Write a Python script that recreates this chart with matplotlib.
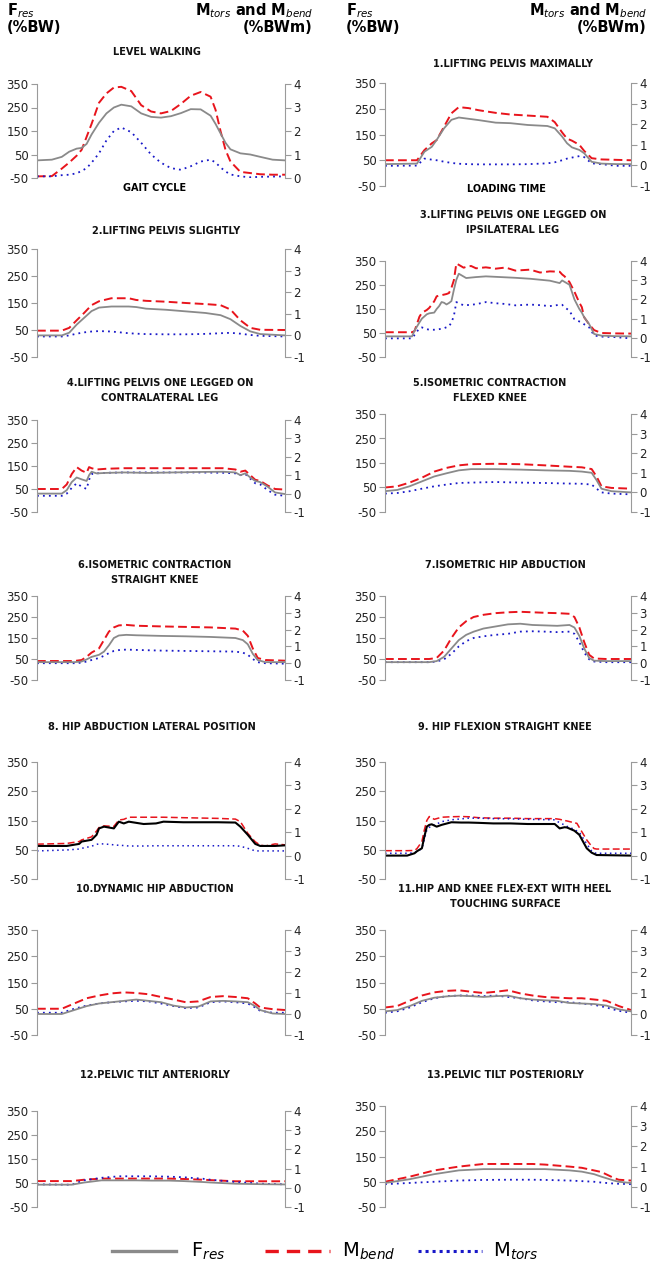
import numpy as np
import matplotlib
matplotlib.use('Agg')
import matplotlib.pyplot as plt
from matplotlib.lines import Line2D

plt.rcParams['axes.unicode_minus'] = False

W, H = 658, 1268

# ---- data (x = % of loading time, Fres in %BW, moments in %BWm) ----
p0_x = [0, 6, 10, 13, 16, 18, 20, 22, 25, 28, 31, 34, 38, 42, 46, 50, 54, 58, 62, 66, 70, 72, 74, 76, 78, 82, 86, 90, 95, 100]
p0_f = [25, 28, 40, 62, 75, 78, 95, 135, 185, 225, 250, 262, 255, 225, 210, 207, 213, 226, 243, 242, 215, 180, 140, 100, 72, 55, 50, 40, 28, 25]
p0_mb = [0.07, 0.08, 0.4, 0.66, 0.95, 1.2, 1.75, 2.3, 3.2, 3.6, 3.85, 3.88, 3.7, 3.1, 2.83, 2.75, 2.85, 3.15, 3.5, 3.66, 3.46, 2.9, 2.0, 1.2, 0.7, 0.26, 0.21, 0.16, 0.14, 0.14]
p0_mt = [0.07, 0.07, 0.12, 0.14, 0.2, 0.3, 0.42, 0.65, 1.05, 1.6, 2.0, 2.15, 1.95, 1.5, 1.0, 0.65, 0.42, 0.35, 0.5, 0.7, 0.78, 0.66, 0.45, 0.28, 0.15, 0.07, 0.03, 0.05, 0.06, 0.07]

p1_x = [0, 13, 16, 19, 21, 24, 27, 30, 34, 38, 45, 51, 58, 66, 69, 72, 74, 76, 79, 81, 84, 88, 94, 100]
p1_f = [35, 37, 83, 102, 129, 174, 207, 216, 211, 206, 196, 194, 187, 183, 174, 142, 116, 100, 90, 77, 44, 37, 35, 35]
p1_mb = [0.25, 0.25, 0.74, 1.07, 1.23, 1.88, 2.53, 2.83, 2.78, 2.68, 2.55, 2.47, 2.42, 2.36, 2.1, 1.6, 1.3, 1.2, 1.0, 0.7, 0.35, 0.29, 0.27, 0.25]
p1_mt = [-0.02, -0.01, 0.33, 0.28, 0.25, 0.18, 0.12, 0.08, 0.06, 0.05, 0.05, 0.05, 0.06, 0.1, 0.15, 0.25, 0.33, 0.38, 0.45, 0.4, 0.1, 0.06, -0.02, -0.02]

p2_x = [0, 10, 13, 16, 19, 22, 25, 30, 37, 40, 44, 52, 60, 68, 74, 78, 82, 86, 90, 100]
p2_f = [30, 30, 40, 70, 95, 120, 133, 137, 137, 135, 129, 125, 119, 113, 105, 90, 65, 45, 35, 30]
p2_mb = [0.22, 0.22, 0.35, 0.7, 1.04, 1.4, 1.58, 1.72, 1.72, 1.64, 1.6, 1.56, 1.5, 1.45, 1.4, 1.2, 0.7, 0.35, 0.26, 0.25]
p2_mt = [-0.05, -0.05, 0.0, 0.08, 0.14, 0.18, 0.2, 0.18, 0.1, 0.08, 0.06, 0.05, 0.05, 0.07, 0.1, 0.12, 0.08, 0.02, -0.02, -0.05]

p3_x = [0, 11, 12, 14, 15, 17, 18, 20, 21, 22, 23, 24, 25, 26, 27, 28, 29, 30, 32, 33, 35, 37, 41, 45, 49, 53, 59, 63, 67, 71, 72, 73, 75, 77, 79, 80, 81, 83, 85, 88, 93, 100]
p3_f = [36, 36, 60, 94, 110, 128, 132, 135, 150, 162, 179, 176, 169, 175, 183, 230, 272, 297, 285, 279, 281, 283, 286, 284, 282, 280, 276, 272, 268, 258, 269, 263, 251, 190, 150, 135, 115, 87, 46, 39, 37, 36]
p3_mb = [0.29, 0.29, 0.35, 1.1, 1.3, 1.45, 1.56, 1.9, 2.16, 2.2, 2.22, 2.25, 2.28, 2.33, 2.6, 3.0, 3.87, 3.8, 3.65, 3.7, 3.74, 3.62, 3.67, 3.6, 3.66, 3.5, 3.55, 3.4, 3.46, 3.44, 3.3, 3.2, 2.9, 2.4, 1.83, 1.6, 1.06, 0.7, 0.4, 0.25, 0.23, 0.22]
p3_mt = [-0.03, -0.03, 0.15, 0.5, 0.54, 0.45, 0.42, 0.42, 0.43, 0.45, 0.47, 0.5, 0.55, 0.59, 0.8, 1.14, 1.86, 1.8, 1.69, 1.7, 1.72, 1.75, 1.86, 1.8, 1.76, 1.69, 1.73, 1.7, 1.65, 1.72, 1.72, 1.6, 1.4, 0.97, 0.85, 0.8, 0.7, 0.54, 0.12, 0.06, 0.04, -0.03]

p4_x = [0, 10, 12, 14, 16, 18, 20, 21, 22, 24, 28, 35, 45, 55, 65, 75, 80, 82, 84, 86, 88, 90, 93, 96, 100]
p4_f = [30, 30, 45, 80, 100, 92, 85, 110, 125, 118, 120, 122, 120, 122, 124, 125, 122, 110, 118, 100, 85, 80, 60, 35, 28]
p4_mb = [0.25, 0.25, 0.5, 1.06, 1.44, 1.25, 1.13, 1.44, 1.38, 1.31, 1.35, 1.38, 1.38, 1.38, 1.38, 1.38, 1.31, 1.19, 1.25, 1.0, 0.75, 0.69, 0.44, 0.25, 0.22]
p4_mt = [-0.12, -0.12, 0.0, 0.31, 0.56, 0.38, 0.25, 0.75, 1.06, 1.1, 1.13, 1.15, 1.15, 1.15, 1.15, 1.13, 1.1, 1.0, 1.06, 0.81, 0.56, 0.5, 0.19, -0.06, -0.12]

p5_x = [0, 5, 10, 15, 20, 25, 30, 35, 45, 55, 65, 75, 80, 84, 86, 88, 92, 100]
p5_f = [35, 40, 55, 75, 95, 108, 120, 125, 125, 123, 120, 118, 115, 110, 80, 45, 35, 30]
p5_mb = [0.25, 0.31, 0.5, 0.75, 1.06, 1.25, 1.38, 1.44, 1.46, 1.44, 1.38, 1.31, 1.28, 1.19, 0.81, 0.31, 0.23, 0.19]
p5_mt = [-0.06, -0.03, 0.06, 0.19, 0.31, 0.4, 0.48, 0.5, 0.53, 0.5, 0.48, 0.45, 0.44, 0.4, 0.19, 0.0, -0.06, -0.1]

p6_x = [0, 15, 18, 20, 22, 25, 27, 29, 31, 33, 36, 40, 50, 60, 70, 80, 83, 85, 87, 89, 92, 100]
p6_f = [35, 35, 38, 48, 60, 70, 85, 115, 150, 162, 165, 163, 160, 158, 155, 150, 140, 120, 75, 45, 35, 35]
p6_mb = [0.13, 0.13, 0.19, 0.38, 0.63, 0.88, 1.38, 1.88, 2.13, 2.25, 2.28, 2.23, 2.19, 2.16, 2.13, 2.06, 1.94, 1.63, 0.88, 0.31, 0.19, 0.15]
p6_mt = [0, 0, 0.03, 0.1, 0.19, 0.31, 0.44, 0.6, 0.73, 0.78, 0.81, 0.79, 0.75, 0.73, 0.71, 0.69, 0.63, 0.5, 0.25, 0.06, 0, -0.03]

p7_x = [0, 18, 21, 24, 27, 30, 33, 36, 40, 45, 50, 55, 60, 65, 70, 75, 77, 79, 81, 83, 85, 90, 100]
p7_f = [35, 35, 40, 60, 100, 140, 165, 180, 195, 205, 215, 218, 212, 210, 208, 212, 200, 160, 100, 55, 42, 40, 40]
p7_mb = [0.25, 0.25, 0.31, 0.75, 1.5, 2.13, 2.5, 2.75, 2.88, 2.98, 3.03, 3.06, 3.03, 3.0, 2.98, 2.94, 2.75, 2.13, 1.25, 0.5, 0.28, 0.25, 0.25]
p7_mt = [0.06, 0.06, 0.1, 0.23, 0.56, 1.0, 1.31, 1.5, 1.6, 1.69, 1.75, 1.88, 1.9, 1.88, 1.85, 1.88, 1.75, 1.25, 0.63, 0.23, 0.1, 0.06, 0.06]

p8_x = [0, 12, 17, 18, 22, 24, 25, 27, 31, 33, 35, 37, 43, 48, 51, 59, 73, 80, 82, 85, 88, 90, 92, 96, 100]
p8_f = [63, 63, 70, 78, 84, 101, 123, 129, 123, 146, 140, 146, 138, 140, 146, 144, 144, 143, 129, 101, 70, 63, 63, 63, 65]
p8_mb = [0.49, 0.52, 0.6, 0.67, 0.8, 1.05, 1.2, 1.27, 1.25, 1.52, 1.55, 1.64, 1.64, 1.64, 1.64, 1.62, 1.59, 1.56, 1.45, 0.95, 0.59, 0.45, 0.41, 0.5, 0.46]
p8_mt = [0.2, 0.24, 0.28, 0.31, 0.4, 0.48, 0.5, 0.5, 0.46, 0.44, 0.43, 0.41, 0.41, 0.42, 0.42, 0.42, 0.42, 0.42, 0.4, 0.31, 0.2, 0.2, 0.2, 0.2, 0.2]

p9_x = [0, 9, 12, 13, 15, 16, 17, 18, 19, 20, 21, 23, 27, 31, 34, 38, 44, 51, 58, 69, 71, 73, 74, 77, 78, 79, 82, 84, 85, 86, 100]
p9_f = [30, 30, 38, 45, 55, 95, 129, 135, 137, 133, 129, 135, 144, 143, 143, 142, 140, 140, 138, 138, 123, 127, 126, 115, 108, 101, 55, 40, 36, 32, 30]
p9_mb = [0.21, 0.21, 0.22, 0.3, 0.6, 1.1, 1.5, 1.67, 1.62, 1.55, 1.58, 1.64, 1.66, 1.67, 1.66, 1.62, 1.6, 1.6, 1.58, 1.58, 1.55, 1.5, 1.48, 1.4, 1.38, 1.2, 0.67, 0.4, 0.3, 0.28, 0.28]
p9_mt = [0.1, 0.1, 0.12, 0.18, 0.3, 0.7, 1.1, 1.2, 1.3, 1.31, 1.35, 1.45, 1.53, 1.57, 1.6, 1.6, 1.58, 1.57, 1.55, 1.53, 1.4, 1.31, 1.25, 1.12, 1.05, 1.0, 0.5, 0.2, 0.12, 0.1, 0.1]

p10_x = [0, 10, 15, 20, 25, 30, 35, 40, 45, 50, 55, 60, 65, 70, 75, 80, 85, 88, 90, 95, 100]
p10_f = [30, 30, 45, 60, 70, 75, 80, 85, 80, 75, 62, 55, 58, 78, 80, 78, 75, 60, 45, 32, 30]
p10_mb = [0.25, 0.25, 0.5, 0.75, 0.88, 0.98, 1.03, 1.0, 0.94, 0.81, 0.69, 0.56, 0.6, 0.81, 0.85, 0.81, 0.75, 0.5, 0.31, 0.23, 0.19]
p10_mt = [0.06, 0.06, 0.25, 0.4, 0.5, 0.56, 0.6, 0.63, 0.6, 0.5, 0.38, 0.28, 0.31, 0.56, 0.6, 0.56, 0.5, 0.31, 0.15, 0.06, 0.06]

p11_x = [0, 5, 10, 15, 20, 25, 30, 35, 40, 45, 50, 55, 60, 65, 70, 75, 80, 85, 90, 95, 100]
p11_f = [40, 45, 60, 80, 92, 97, 100, 98, 95, 98, 100, 90, 85, 82, 80, 72, 70, 68, 62, 48, 40]
p11_mb = [0.31, 0.38, 0.63, 0.88, 1.03, 1.1, 1.13, 1.06, 1.0, 1.06, 1.13, 0.98, 0.88, 0.81, 0.78, 0.75, 0.75, 0.69, 0.63, 0.38, 0.19]
p11_mt = [0.06, 0.13, 0.31, 0.56, 0.75, 0.85, 0.88, 0.88, 0.85, 0.88, 0.81, 0.75, 0.65, 0.6, 0.56, 0.56, 0.5, 0.44, 0.31, 0.15, 0.06]

p12_x = [0, 14, 19, 26, 33, 40, 46, 53, 59, 67, 70, 80, 91, 100]
p12_f = [43, 43, 52, 61, 61, 61, 60, 60, 58, 54, 52, 47, 45, 44]
p12_mb = [0.35, 0.35, 0.42, 0.48, 0.48, 0.48, 0.48, 0.48, 0.46, 0.42, 0.4, 0.34, 0.34, 0.34]
p12_mt = [0.18, 0.16, 0.39, 0.52, 0.6, 0.6, 0.6, 0.58, 0.55, 0.47, 0.42, 0.3, 0.21, 0.18]

p13_x = [0, 10, 20, 30, 40, 50, 60, 65, 75, 80, 85, 88, 93, 95, 100]
p13_f = [45, 60, 80, 95, 100, 100, 100, 100, 95, 90, 80, 70, 55, 50, 45]
p13_mb = [0.25, 0.5, 0.81, 1.0, 1.13, 1.13, 1.13, 1.1, 1.0, 0.94, 0.81, 0.73, 0.44, 0.35, 0.31]
p13_mt = [0.13, 0.19, 0.25, 0.31, 0.34, 0.35, 0.35, 0.34, 0.31, 0.28, 0.25, 0.21, 0.16, 0.15, 0.13]

titles = [
    ['LEVEL WALKING'], ['1.LIFTING PELVIS MAXIMALLY'],
    ['2.LIFTING PELVIS SLIGHTLY'], ['3.LIFTING PELVIS ONE LEGGED ON', 'IPSILATERAL LEG'],
    ['4.LIFTING PELVIS ONE LEGGED ON', 'CONTRALATERAL LEG'], ['5.ISOMETRIC CONTRACTION', 'FLEXED KNEE'],
    ['6.ISOMETRIC CONTRACTION', 'STRAIGHT KNEE'], ['7.ISOMETRIC HIP ABDUCTION'],
    ['8. HIP ABDUCTION LATERAL POSITION'], ['9. HIP FLEXION STRAIGHT KNEE'],
    ['10.DYNAMIC HIP ABDUCTION'], ['11.HIP AND KNEE FLEX-EXT WITH HEEL', 'TOUCHING SURFACE'],
    ['12.PELVIC TILT ANTERIORLY'], ['13.PELVIC TILT POSTERIORLY'],
]
series = [
    (p0_x, p0_f, p0_mb, p0_mt), (p1_x, p1_f, p1_mb, p1_mt),
    (p2_x, p2_f, p2_mb, p2_mt), (p3_x, p3_f, p3_mb, p3_mt),
    (p4_x, p4_f, p4_mb, p4_mt), (p5_x, p5_f, p5_mb, p5_mt),
    (p6_x, p6_f, p6_mb, p6_mt), (p7_x, p7_f, p7_mb, p7_mt),
    (p8_x, p8_f, p8_mb, p8_mt), (p9_x, p9_f, p9_mb, p9_mt),
    (p10_x, p10_f, p10_mb, p10_mt), (p11_x, p11_f, p11_mb, p11_mt),
    (p12_x, p12_f, p12_mb, p12_mt), (p13_x, p13_f, p13_mb, p13_mt),
]
left_ticks = [-50, 50, 150, 250, 350]

# ---- layout in pixels: axes (top, bottom) per panel, title centre y ----
cols = [(37, 285), (385, 631)]
axes_tb = [(84, 178), (83, 186), (249, 357), (261, 357), (420, 512), (414, 512),
           (596, 680), (596, 680), (762, 879), (762, 879), (930, 1035), (930, 1035),
           (1111, 1207), (1106, 1207)]
title_y = [52, 64, 231, 215, 383, 383, 565, 565, 727, 727, 889, 889, 1075, 1075]
title_xc = [157, 513, 166, 513, 160, 490, 155, 505, 152, 505, 155, 505, 155, 505]

GREY, RED, BLUE, SPINE = '#8a8a8a', '#e8141c', '#1818c8', '#9a9a9a'

fig = plt.figure(figsize=(W / 100, H / 100), dpi=100)

for i in range(14):
    x0, x1 = cols[i % 2]
    top, bot = axes_tb[i]
    ax = fig.add_axes([x0 / W, 1 - bot / H, (x1 - x0) / W, (bot - top) / H])
    ax2 = ax.twinx()
    xs, f, mb, mt = series[i]
    thin = i in (8, 9)
    fcol = 'black' if thin else GREY
    ax2.plot(xs, mb, color=RED, lw=1.1 if thin else 1.4, ls=(0, (4.5, 2.2)), zorder=2)
    ax2.plot(xs, mt, color=BLUE, lw=1.1 if thin else 1.3, ls=(0, (1, 2.3)), zorder=2)
    ax.plot(xs, f, color=fcol, lw=1.5 if thin else 1.3)
    ax.set_zorder(ax2.get_zorder() + 1)
    ax.patch.set_visible(False)
    ax.set_xlim(0, 100)
    ax.set_ylim(-50, 350)
    ax.set_yticks(left_ticks)
    if i == 0:
        ax2.set_ylim(0, 4)
        ax2.set_yticks([0, 1, 2, 3, 4])
    else:
        ax2.set_ylim(-1, 4)
        ax2.set_yticks([-1, 0, 1, 2, 3, 4])
    for a in (ax, ax2):
        a.set_xticks([])
        for s in ('top', 'bottom'):
            a.spines[s].set_visible(False)
        a.tick_params(axis='y', direction='out', length=4, width=0.8, color=SPINE,
                      labelsize=8.5, labelcolor='#222222', pad=2)
    ax.spines['right'].set_visible(False)
    ax.spines['left'].set_color(SPINE)
    ax2.spines['left'].set_visible(False)
    ax2.spines['right'].set_color(SPINE)
    for k, line in enumerate(titles[i]):
        fig.text(title_xc[i] / W, 1 - (title_y[i] + 15 * k) / H, line, ha='center', va='center',
                 fontsize=7, fontweight='bold', color='#111111')

# x axis captions of the first row
fig.text(155 / W, 1 - 188 / H, 'GAIT CYCLE', ha='center', va='center', fontsize=7, fontweight='bold')
fig.text(506 / W, 1 - 189 / H, 'LOADING TIME', ha='center', va='center', fontsize=7, fontweight='bold')

# unit headers
for xl, xr in [(7, 313), (346, 647)]:
    fig.text(xl / W, 1 - 11 / H, 'F$_{res}$', ha='left', va='center', fontsize=10.5, fontweight='bold')
    fig.text(xl / W, 1 - 27 / H, '(%BW)', ha='left', va='center', fontsize=10.5, fontweight='bold')
    fig.text(xr / W, 1 - 11 / H, 'M$_{tors}$ and M$_{bend}$', ha='right', va='center', fontsize=10.5, fontweight='bold')
    fig.text(xr / W, 1 - 27 / H, '(%BWm)', ha='right', va='center', fontsize=10.5, fontweight='bold')

# legend
ly = 1 - 1251 / H
fig.add_artist(Line2D([112 / W, 176 / W], [ly, ly], color=GREY, lw=2.4))
fig.add_artist(Line2D([265 / W, 330 / W], [ly, ly], color=RED, lw=2.4, ls=(0, (4, 2.4))))
fig.add_artist(Line2D([418 / W, 482 / W], [ly, ly], color=BLUE, lw=2.2, ls=(0, (1, 1.3))))
fig.text(191 / W, ly, 'F$_{res}$', ha='left', va='center', fontsize=14)
fig.text(342 / W, ly, 'M$_{bend}$', ha='left', va='center', fontsize=14)
fig.text(493 / W, ly, 'M$_{tors}$', ha='left', va='center', fontsize=14)

fig.savefig('out.png', dpi=100)
